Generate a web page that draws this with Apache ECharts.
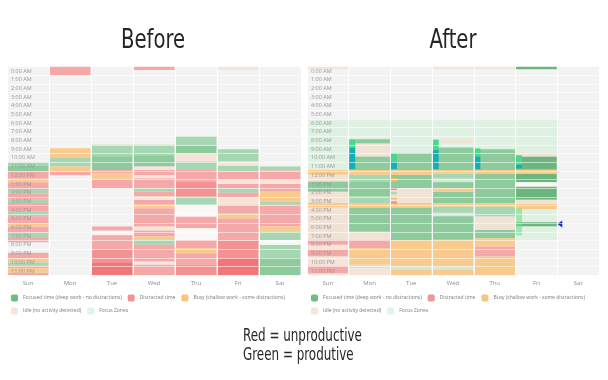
<!DOCTYPE html>
<html><head><meta charset="utf-8">
<script src="https://cdn.jsdelivr.net/npm/echarts@6/dist/echarts.min.js"></script>
<style>html,body{margin:0;padding:0;background:#fff}#c{width:608px;height:380px}</style>
</head><body><div id="c"></div><script>
// ---------- data ----------
const days = ['Sun','Mon','Tue','Wed','Thu','Fri','Sat'];
const hourLabels = ['0:00 AM','1:00 AM','2:00 AM','3:00 AM','4:00 AM','5:00 AM','6:00 AM','7:00 AM','8:00 AM','9:00 AM','10:00 AM','11:00 AM',
  '12:00 PM','1:00 PM','2:00 PM','3:00 PM','4:00 PM','5:00 PM','6:00 PM','7:00 PM','8:00 PM','9:00 PM','10:00 PM','11:00 PM'];
const legendNames = ['Focused time (deep work - no distractions)','Distracted time','Busy (shallow work - some distractions)','Idle (no activity detected)','Focus Zones'];
const titles = ['Before','After'];
const noteLines = ['Red = unproductive','Green = produtive'];

// segments: [startHour, endHour, kind]
const before_Sun = [[11.0,11.4,'F'],[11.4,12.0,'F2'],[12.0,12.9,'D'],[12.9,13.3,'B'],[13.3,14.2,'D'],[14.2,14.6,'F'],[14.6,15.3,'D'],[15.3,15.7,'F'],[15.7,16.7,'D'],[16.7,17.2,'F'],[17.2,18.0,'D'],[18.0,18.4,'B'],[18.4,19.1,'D'],[19.1,19.7,'F'],[19.7,20.2,'D'],[21.4,22.0,'D'],[22.0,22.5,'B'],[22.5,22.9,'F'],[22.9,23.2,'D'],[23.2,23.7,'B'],[23.7,24,'D']];
const before_Mon = [[0,1.0,'D'],[9.4,10.5,'B'],[10.5,11.5,'F'],[11.5,12.1,'B'],[12.1,12.5,'D']];
const before_Tue = [[9.0,10.3,'F'],[10.3,11.9,'F2'],[11.9,12.3,'D'],[12.3,12.9,'B'],[12.9,14.0,'D'],[18.4,18.85,'D'],[19.4,21.0,'D'],[21.0,22.5,'D2'],[22.5,24,'D3']];
const before_Wed = [[0,0.4,'D'],[9.0,10.2,'F'],[10.2,11.5,'F2'],[11.5,11.9,'I'],[11.9,12.5,'D'],[12.5,12.85,'I'],[12.85,14.0,'D'],[14.0,14.4,'F'],[14.4,14.95,'D'],[14.95,15.35,'I'],[15.35,15.9,'D'],[15.9,16.3,'B'],[16.3,18.4,'D'],[18.4,18.85,'I'],[18.85,19.55,'D'],[19.55,19.95,'B'],[19.95,20.5,'F'],[20.5,22.4,'D'],[22.4,22.8,'I'],[22.8,24,'D']];
const before_Thu = [[8.0,9.0,'F'],[9.0,10.0,'F2'],[10.0,10.9,'I'],[10.9,11.9,'F'],[11.9,13.2,'D'],[13.2,14.95,'D2'],[14.95,15.9,'F'],[15.9,17.25,'W'],[17.25,18.6,'D'],[18.6,19.95,'W'],[19.95,20.9,'D'],[20.9,21.45,'B'],[21.45,22.8,'D'],[22.8,24,'D2']];
const before_Fri = [[0,0.4,'I'],[9.5,10.9,'F'],[10.9,11.4,'I'],[11.4,12.1,'F'],[12.1,13.0,'D'],[13.0,13.5,'I'],[13.5,14.0,'D'],[14.0,14.5,'F'],[14.5,15.0,'D'],[15.0,15.9,'I'],[15.9,16.85,'D'],[16.85,17.45,'B'],[17.45,20.0,'D'],[20.0,22.0,'D2'],[22.0,24,'D3']];
const before_Sat = [[11.5,11.95,'F'],[11.95,13.0,'D'],[13.0,13.5,'I'],[13.5,14.4,'D'],[14.4,15.5,'B'],[15.5,15.9,'F'],[15.9,18.4,'D'],[18.4,18.95,'B'],[18.95,19.95,'F'],[19.95,20.5,'W'],[20.5,22.0,'F'],[22.0,24,'F2']];

const after_Sun = [[0,0.3,'I'],[11.9,12.45,'B'],[12.45,13.2,'I'],[13.2,14.4,'F2'],[14.4,15.7,'I'],[15.7,16.2,'B'],[16.2,19.9,'I'],[19.9,20.5,'D'],[20.5,21.0,'I'],[21.0,21.85,'D'],[21.85,22.9,'I'],[22.9,23.8,'D'],[23.8,24,'I']];
const after_Mon = [[8.35,8.85,'F2'],[8.85,10.35,'I'],[10.35,11.9,'F2'],[11.9,12.45,'B'],[12.45,13.2,'F'],[13.2,14.9,'F2'],[14.9,15.7,'F'],[15.7,16.2,'B'],[16.2,19.0,'F2'],[19.0,19.95,'I'],[19.95,20.9,'D'],[20.9,22.8,'B'],[22.8,23.2,'Fl'],[23.2,24,'I']];
const after_Tue = [[9.95,11.9,'F2'],[11.9,12.45,'B'],[12.45,14.0,'F2'],[14.0,15.7,'I'],[15.7,16.2,'B'],[16.2,19.95,'F2'],[19.95,23.0,'B'],[23.0,23.4,'Fl'],[23.4,24,'B']];
const after_Wed = [[0,0.3,'I'],[8.35,8.75,'I'],[9.3,11.9,'F2'],[11.9,12.3,'B'],[12.3,12.9,'F'],[12.9,13.3,'Fl'],[13.3,14.0,'F2'],[14.0,14.4,'B'],[14.4,15.7,'F2'],[15.7,16.1,'B'],[16.1,16.8,'F'],[16.8,17.2,'Fl'],[17.2,19.9,'F2'],[19.95,23.0,'B'],[23.0,23.4,'Fl'],[23.4,24,'B']];
const after_Thu = [[0,0.3,'I'],[9.5,11.9,'F2'],[11.9,12.3,'B'],[12.3,15.7,'F2'],[15.7,16.1,'B'],[16.1,17.25,'F'],[17.25,18.8,'I'],[18.8,19.75,'F2'],[19.75,20.7,'B'],[20.7,21.85,'D'],[21.85,24,'B']];
const after_Fri = [[0,0.3,'F3'],[9.9,10.35,'I'],[10.35,11.85,'F3'],[11.85,12.35,'B'],[12.35,13.3,'F3'],[13.3,13.8,'W'],[13.8,15.3,'F3'],[15.3,15.8,'I'],[15.8,16.4,'B'],[17.9,18.35,'F3']];
const after_Sat = [];

// focus zones (after): [dayIndex, start, end]
const focusZones = [[0,6,20],[1,6,20],[2,6,20],[3,6,20],[4,6,20],[5,6,20]];
// small edge markers (after): [dayIndex, start, end, kind]
const edgeMarkers = [[1,8.4,9.3,'g'],[1,9.3,11.8,'t'],[2,9.95,10.95,'g'],[2,10.95,11.8,'t'],
  [2,12.8,13.2,'y'],[2,13.9,14.2,'r'],[2,14.4,14.7,'gl'],[2,15.0,15.3,'y'],[2,15.5,15.75,'r'],
  [3,8.4,9.6,'g'],[3,9.6,11.8,'t'],[4,9.4,10.35,'g'],[4,10.35,11.8,'t'],
  [5,10.2,11.3,'g'],[5,11.3,11.7,'t'],[5,16.3,19.4,'gl']];
// current-time pointer: [dayIndex, hour]
const nowPointer = [[5,18.1]];

// ---------- styles ----------
const kindColor = {F:'#a6d7b2',F2:'#8dca9c',F3:'#6db57f',Fl:'#cfe9d6',D:'#f5a8a8',D2:'#f39292',D3:'#f07777',
  B:'#f9ca8d',I:'rgba(246,222,208,0.72)',W:'#f9f8f6',g:'#46d98b',t:'#10b0b6',gl:'rgba(100,222,135,0.55)',y:'#f2c46a',r:'#f08a8a'};
const kindCat = {F:0,F2:0,F3:0,Fl:0,D:1,D2:1,D3:1,B:2,I:3,W:3};
const legendColors = ['#6fbf83','#f09494','#f9c47c','#f8e6dc','#e2f3e7'];

const beforeDays = [before_Sun,before_Mon,before_Tue,before_Wed,before_Thu,before_Fri,before_Sat];
const afterDays = [after_Sun,after_Mon,after_Tue,after_Wed,after_Thu,after_Fri,after_Sat];

function flatten(dayArrays){
  const out=[];
  dayArrays.forEach((arr,d)=>arr.forEach(s=>out.push({day:d,start:s[0],end:s[1],kind:s[2]})));
  return out;
}

function segRenderer(list, inset){
  return function(params, api){
    const s = list[params.dataIndex];
    const p0 = api.coord([s.day, s.start]);
    const p1 = api.coord([s.day, s.end]);
    const bw = api.size([1,0])[0];
    return {type:'rect', shape:{x:p0[0]-bw/2+inset, y:p0[1], width:bw-2*inset, height:p1[1]-p0[1]},
      style:{fill:kindColor[s.kind]}};
  };
}

const series = [];
[beforeDays, afterDays].forEach((dayArrays, p)=>{
  const all = flatten(dayArrays);
  if (p===1){
    const zl = focusZones.map(z=>({day:z[0],start:z[1],end:z[2]}));
    series.push({type:'custom', name:legendNames[4], xAxisIndex:1, yAxisIndex:3, z:1,
      itemStyle:{color:legendColors[4]}, data: zl.map(s=>[s.day,s.start,s.end]),
      renderItem:function(params, api){
        const s = zl[params.dataIndex];
        const p0 = api.coord([s.day, s.start]); const p1 = api.coord([s.day, s.end]);
        const bw = api.size([1,0])[0];
        return {type:'rect', shape:{x:p0[0]-bw/2, y:p0[1], width:bw, height:p1[1]-p0[1]}, style:{fill:'#def1e3'}};
      }});
  }
  for (let c=0;c<4;c++){
    const list = all.filter(s=>kindCat[s.kind]===c);
    series.push({type:'custom', name:legendNames[c], xAxisIndex:p, yAxisIndex:p*2+1, z:2,
      itemStyle:{color:legendColors[c]}, data:list.map(s=>[s.day,s.start,s.end]),
      renderItem:segRenderer(list, 0.5)});
  }
});
const ml = edgeMarkers.map(m=>({day:m[0],start:m[1],end:m[2],kind:m[3]}));
series.push({type:'custom', xAxisIndex:1, yAxisIndex:3, z:3, data:ml.map(s=>[s.day,s.start,s.end]),
  renderItem:function(params, api){
    const s = ml[params.dataIndex];
    const p0 = api.coord([s.day, s.start]); const p1 = api.coord([s.day, s.end]);
    const bw = api.size([1,0])[0];
    return {type:'rect', shape:{x:p0[0]-bw/2+0.5, y:p0[1], width:6, height:p1[1]-p0[1]}, style:{fill:kindColor[s.kind]}};
  }});
series.push({type:'custom', xAxisIndex:1, yAxisIndex:3, z:4, data:nowPointer,
  renderItem:function(params, api){
    const pt = api.coord([api.value(0), api.value(1)]);
    const bw = api.size([1,0])[0];
    const xr = pt[0]+bw/2;
    return {type:'polygon', shape:{points:[[xr,pt[1]],[xr+5,pt[1]-3.5],[xr+5,pt[1]+3.5]]}, style:{fill:'#1b2fd1'}};
  }});

// ---------- layout ----------
const grids = [{left:7, top:66.6, width:294, height:208.7},{left:307, top:66.6, width:292, height:208.7}];
const xAxes = [], yAxes = [];
grids.forEach((g,i)=>{
  xAxes.push({gridIndex:i, type:'category', data:days, z:10,
    axisLine:{show:false}, axisTick:{show:false},
    axisLabel:{fontSize:6, color:'#8c8c8c', margin:5, fontFamily:'Open Sans'},
    splitLine:{show:true, lineStyle:{color:'rgba(255,255,255,0.9)', width:1}}});
  yAxes.push({gridIndex:i, type:'category', data:hourLabels, inverse:true, z:10,
    axisLine:{show:false}, axisTick:{show:false},
    axisLabel:{inside:true, interval:0, fontSize:5.5, color:'#9a9a9a', margin:4, fontFamily:'Open Sans'},
    splitLine:{show:true, lineStyle:{color:'rgba(255,255,255,0.55)', width:1}}});
  yAxes.push({gridIndex:i, type:'value', min:0, max:24, inverse:true, show:false});
});
const legends = [11, 311].map(l=>({left:l, top:294.5, width:292, padding:0, itemWidth:7, itemHeight:7, itemGap:6,
  icon:'roundRect', textStyle:{fontSize:5, color:'#7a7a7a', fontFamily:'Open Sans'}, data:legendNames, selectedMode:false}));

const titleFont = '"Liberation Sans Narrow","DejaVu Sans Condensed",Lato,sans-serif';
const chart = echarts.init(document.getElementById('c'), null, {renderer:'canvas'});
chart.setOption({
  animation:false,
  backgroundColor:'#ffffff',
  grid: grids.map(g=>Object.assign({show:true, backgroundColor:'#f3f3f3', borderWidth:0}, g)),
  xAxis:xAxes, yAxis:yAxes, legend:legends, series:series,
  graphic:[
    {type:'text', x:153, y:41, scaleX:0.84, style:{text:titles[0], fontSize:26, fontFamily:titleFont, fill:'#262626', align:'center', verticalAlign:'middle'}},
    {type:'text', x:453, y:41, scaleX:0.84, style:{text:titles[1], fontSize:26, fontFamily:titleFont, fill:'#262626', align:'center', verticalAlign:'middle'}},
    {type:'text', x:243, y:337, scaleX:0.78, style:{text:noteLines[0], fontSize:17, fontFamily:titleFont, fill:'#262626', align:'left', verticalAlign:'middle'}},
    {type:'text', x:243, y:356, scaleX:0.78, style:{text:noteLines[1], fontSize:17, fontFamily:titleFont, fill:'#262626', align:'left', verticalAlign:'middle'}}
  ]
});
</script></body></html>
